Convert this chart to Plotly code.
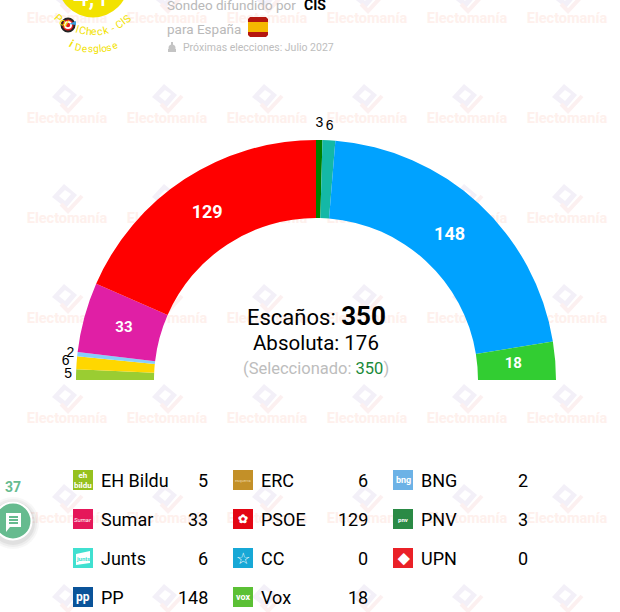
"""
Seat projection for the Spanish parliament drawn as a half donut, with the party table under it.
The whole page is laid out on one pixel sized cartesian canvas, the arc sits on a polar subplot above it.
"""
import math
import plotly.graph_objects as go

# Seats in the order they appear on the arc, left to right
arc_parties = ['EH Bildu', 'ERC', 'BNG', 'Sumar', 'PSOE', 'PNV', 'Junts', 'PP', 'Vox']
arc_seats = [5, 6, 2, 33, 129, 3, 6, 148, 18]
arc_colors = ['#9acd32', '#ffd700', '#87cefa', '#e01fa5', '#ff0000', '#008000', '#14b8a6', '#00a2ff', '#32cd32']
arc_text_radius = [248, 251, 247, 199, 199, 257, 254, 197, 198]
arc_text_sizes = [14, 14, 14, 15, 18, 14, 14, 18, 15]
arc_text_colors = ['#000', '#000', '#000', '#fff', '#fff', '#000', '#000', '#fff', '#fff']

# Table under the chart
table_parties = ['EH Bildu', 'Sumar', 'Junts', 'PP', 'ERC', 'PSOE', 'CC', 'Vox', 'BNG', 'PNV', 'UPN']
table_seats = [5, 33, 6, 148, 6, 129, 0, 18, 2, 3, 0]
table_colors = ['#96c11f', '#e5175a', '#40e0d0', '#0a5399', '#c39028', '#e30613', '#17a8d6', '#5bc035',
                '#6cb2e6', '#2a8a45', '#ea2128']
table_glyphs = ['<b>eh<br>bildu</b>', '<i>Sumar</i>', '<b>junts</b>', '<b>pp</b>', 'esquerra', '<b>✿</b>', '☆',
                '<b>vox</b>', '<b>bng</b>', '<b>pnv</b>', '<b>◆</b>']
table_glyph_sizes = [8, 6, 6, 12, 4, 12, 16, 9, 9, 6, 15]
table_glyph_colors = ['#fff', '#fff', '#40e0d0', '#fff', '#ecd9a8', '#fff', '#fff', '#fff', '#fff', '#fff', '#fff']

total_seats = 350
majority = 176
selected = 350
poll_score = '4,1'
comment_count = 37

# The reference leaves a wider gap around the target icon, so the top text comes in two pieces
badge_top_start = 'Pol'
badge_top_end = 'lCheck - CIS'
badge_bottom = 'Desglose'

grey = '#b9b9b9'
yellow = '#f2e200'
chat_green = '#66bb8f'
CENTER_X = 316
BASE_Y = 380
FONT = 'Roboto'
# Rough letter widths in em for the curved badge texts, anything else counts as 0.55
NARROW = {'l': 0.24, 'i': 0.24, ' ': 0.25, '-': 0.28, 'I': 0.27, 'P': 0.62, 'C': 0.65, 'S': 0.6, 'D': 0.65}

shapes = []
annotations = []


def add_text(x, y, text, size, color='#000', anchor='left', angle=0, vanchor='middle'):
    # Annotation boxes pad their text by about 2 px, take that back off
    shift = {'left': -2, 'right': 2, 'center': 0}[anchor]
    annotations.append(dict(x=x + shift, y=y, xref='x', yref='y', text=text, showarrow=False, xanchor=anchor,
                            yanchor=vanchor, textangle=angle, font=dict(family=FONT, size=size, color=color)))


def add_rect(x0, y0, x1, y1, color, layer='above'):
    shapes.append(dict(type='rect', xref='x', yref='y', x0=x0, y0=y0, x1=x1, y1=y1, fillcolor=color,
                       line_width=0, layer=layer))


def add_circle(cx, cy, r, color, line=None, layer='above'):
    shapes.append(dict(type='circle', xref='x', yref='y', x0=cx - r, y0=cy - r, x1=cx + r, y1=cy + r,
                       fillcolor=color, line=dict(width=2 if line else 0, color=line or color), layer=layer))


def add_path(points, color, width=0, fill=True, layer='above'):
    path = 'M' + ' L'.join(f'{x},{y}' for x, y in points) + (' Z' if fill else '')
    shapes.append(dict(type='path', xref='x', yref='y', path=path, fillcolor=color if fill else 'rgba(0,0,0,0)',
                       line=dict(width=width, color=color), layer=layer))


def add_curved_text(text, cx, cy, radius, start, size, color):
    # Letter by letter along the bottom of a circle, angle measured from straight down
    position = 0
    for char in text:
        advance = NARROW.get(char, 0.55) * size
        angle = start + math.degrees((position + advance / 2) / radius)
        x = cx + radius * math.sin(math.radians(angle))
        y = cy + radius * math.cos(math.radians(angle))
        if char != ' ':
            add_text(x, y, char, size, color, 'center', -angle)
        position += advance


# Watermark logos go below everything
for wx in range(67, 620, 100):
    for wy in range(-1, 612, 100):
        add_path([(wx - 15, wy - 2), (wx - 3, wy - 15), (wx + 10, wy - 4), (wx - 1, wy + 9)], '#f3f0f8', layer='below')
        add_path([(wx - 8, wy - 3), (wx - 2, wy - 9), (wx + 4, wy - 5), (wx - 2, wy + 2)], '#ffffff', layer='below')
        add_path([(wx - 6, wy + 5), (wx + 1, wy + 12), (wx + 15, wy - 3)], '#fcf0f0', width=4, fill=False, layer='below')

watermark_x = [x for x in range(67, 620, 100) for y in range(19, 612, 100)]
watermark_y = [y for x in range(67, 620, 100) for y in range(19, 612, 100)]
canvas = go.Scatter(x=watermark_x, y=watermark_y, mode='text', text=['<b>Electomanía</b>'] * len(watermark_x),
                    textfont=dict(family=FONT, size=14.5, color='#fef0ec'), hoverinfo='skip', cliponaxis=False)

# Half donut
thetas, widths = [], []
running = 0
for seats in arc_seats:
    thetas.append((running + seats / 2) * 180 / total_seats)
    widths.append(seats * 180 / total_seats)
    running += seats

arc = go.Barpolar(r=[78] * len(arc_seats), base=162, theta=thetas, width=widths, marker=dict(color=arc_colors, line_width=0),
                  customdata=arc_parties, hovertemplate='%{customdata}<extra></extra>')
# White numbers sit on the arc in Roboto, the black outside ones fall back to the plain sans
arc_fonts = [FONT if c == '#fff' else 'Liberation Sans' for c in arc_text_colors]
arc_labels = go.Scatterpolar(r=arc_text_radius, theta=thetas, mode='text', text=[str(s) for s in arc_seats],
                             textfont=dict(family=arc_fonts, size=arc_text_sizes, color=arc_text_colors),
                             texttemplate=[f'<b>{s}</b>' if c == '#fff' else str(s) for s, c in zip(arc_seats, arc_text_colors)],
                             hoverinfo='skip', cliponaxis=False)

# Text in the hole
add_text(CENTER_X, 316, f'Escaños: <b><span style="font-size:26px">{total_seats}</span></b>', 22, anchor='center')
add_text(CENTER_X, 343, f'Absoluta: {majority}', 20.5, anchor='center')
add_text(CENTER_X, 368, f'(Seleccionado: <span style="color:#1a8a3a">{selected}</span>)', 16.5, '#bdbdbd', 'center')

# Party table, four rows per column
col_icon = [73, 233, 393]
col_value = [208, 368, 528]
row_y = [480, 519, 558, 597]
for i, party in enumerate(table_parties):
    col, row = i // 4, i % 4
    x, y = col_icon[col], row_y[row]
    add_rect(x, y - 10, x + 20, y + 10, table_colors[i])
    if party == 'Junts':
        add_path([(x + 3, y - 4), (x + 17, y - 7), (x + 17, y + 5), (x + 3, y + 7)], '#ffffff')
    add_text(x + 10, y, table_glyphs[i], table_glyph_sizes[i], table_glyph_colors[i], 'center')
    add_text(x + 28, y, party, 18)
    add_text(col_value[col], y, str(table_seats[i]), 18, anchor='right')

# Header, the score is anchored at its bottom so it stays drawn although the page cuts its top
add_circle(93, -18, 35.5, yellow)
add_text(91, 15, poll_score, 28, '#fff', 'center', vanchor='bottom')
add_curved_text(badge_top_start, 93, -18, 50, -47, 10.5, yellow)
add_curved_text(badge_top_end, 93, -18, 50, -19, 10.5, yellow)
add_text(71, 43, '<b><i>i</i></b>', 11, yellow, 'center', 20)
add_curved_text(badge_bottom, 93, -18, 67, -15, 10, yellow)
add_circle(68, 25, 6.5, '#e02020', line='#222')
add_circle(68, 25, 4, '#ffffff')
add_circle(68, 25, 2.2, '#e02020')
add_path([(69, 24), (76, 21), (76, 25)], '#3aa0e0')

add_text(167, 5, 'Sondeo difundido por', 13.5, grey)
add_text(304, 5, '<b>CIS</b>', 14)
add_text(167, 29, 'para España', 13.5, grey)
add_path([(250, 17), (266, 17), (268, 19), (268, 35), (266, 37), (250, 37), (248, 35), (248, 19)], '#b5170f')
add_rect(248, 22, 268, 32, '#f5b800')
add_circle(172, 48, 3.5, '#c4c4c4')
add_rect(168, 49, 176, 52, '#c4c4c4')
add_rect(171, 42, 173, 45, '#c4c4c4')
add_text(183, 47.5, 'Próximas elecciones: Julio 2027', 10.5, '#bdbdbd')

# Chat button, a few see-through rings stand in for the shadow
for r, alpha in [(26, 0.03), (24, 0.04), (22, 0.05)]:
    add_circle(13, 523, r, f'rgba(0,0,0,{alpha})')
add_circle(13, 521, 18.5, chat_green, line='#ffffff')
add_path([(6, 513), (21, 513), (21, 527), (10, 527), (6, 532)], '#ffffff')
for ly in (517, 520, 523):
    add_rect(9, ly - 1, 18, ly + 1, chat_green)
add_text(13, 487, f'<b>{comment_count}</b>', 14, chat_green, 'center')

fig = go.Figure(data=[canvas, arc, arc_labels])
fig.update_layout(
    width=620, height=612, margin=dict(l=0, r=0, t=0, b=0), paper_bgcolor='white', plot_bgcolor='rgba(0,0,0,0)',
    showlegend=False, shapes=shapes, annotations=annotations,
    xaxis=dict(range=[0, 620], visible=False, fixedrange=True, domain=[0, 1]),
    yaxis=dict(range=[612, 0], visible=False, fixedrange=True, domain=[0, 1]),
    polar=dict(
        # radial range of 270 px leaves room for the outside labels
        domain=dict(x=[(CENTER_X - 270) / 620, (CENTER_X + 270) / 620], y=[(612 - BASE_Y) / 612, (612 - BASE_Y + 270) / 612]),
        sector=[0, 180], bgcolor='rgba(0,0,0,0)',
        radialaxis=dict(range=[0, 270], visible=False),
        angularaxis=dict(rotation=180, direction='clockwise', visible=False),
    ),
)

# Save Plot to HTML File
fig.write_html("out.html", config=dict(displayModeBar=False),
               post_script="document.body.style.margin='0';document.body.style.overflow='hidden';")
